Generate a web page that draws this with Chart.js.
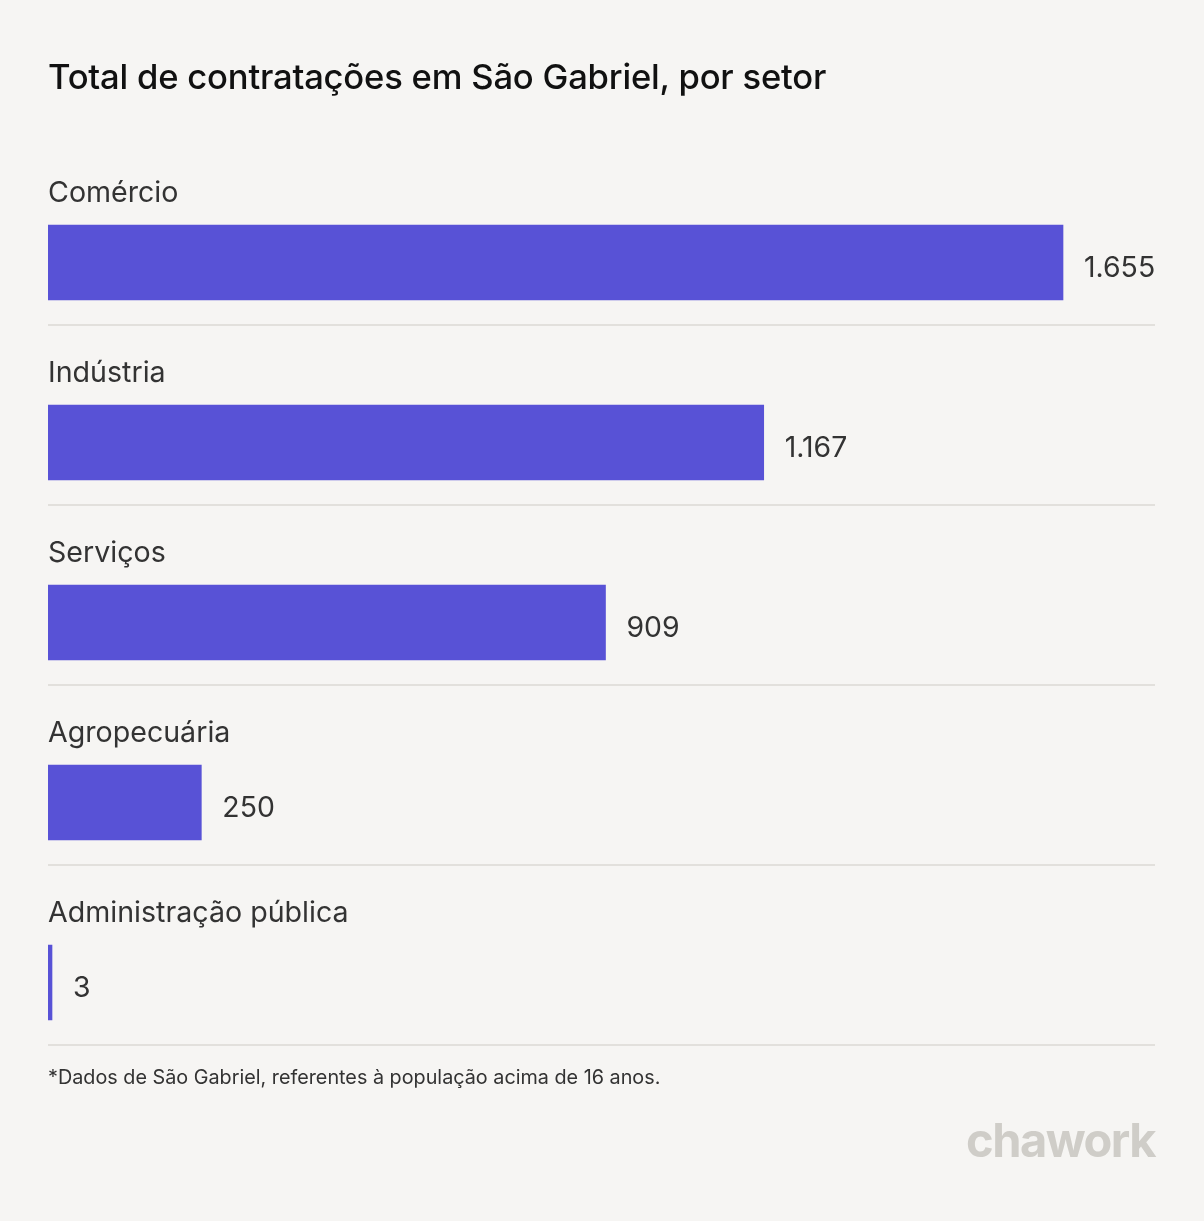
<!DOCTYPE html>
<html>
<head>
<meta charset="utf-8">
<script src="https://cdn.jsdelivr.net/npm/chart.js@4"></script>
<style>
  html, body { margin: 0; padding: 0; background: #f6f5f3; }
  body { width: 1204px; height: 1221px; position: relative; overflow: hidden; font-family: Inter, "Noto Sans", sans-serif; }
  #title { position: absolute; left: 48px; top: 56px; font-size: 34.6px; font-weight: 500; color: #111; letter-spacing: -0.2px; line-height: 40px; }
  #note { position: absolute; left: 48px; top: 1065px; font-size: 19.8px; color: #333; line-height: 24px; }
  #logo { position: absolute; right: 49px; top: 1112px; font-size: 47px; font-weight: 700; color: #cfcdc8; letter-spacing: -1.5px; line-height: 56px; }
  #wrap { position: absolute; left: 0; top: 0; width: 1204px; height: 1221px; }
</style>
</head>
<body>
<div id="wrap"><canvas id="chart" width="1204" height="1221"></canvas></div>
<div id="title">Total de contratações em São Gabriel, por setor</div>
<div id="note">*Dados de São Gabriel, referentes à população acima de 16 anos.</div>
<div id="logo">chawork</div>
<script>
const categories = ['Comércio', 'Indústria', 'Serviços', 'Agropecuária', 'Administração pública'];
const hires = [1655, 1167, 909, 250, 3];
const valueLabels = ['1.655', '1.167', '909', '250', '3'];

const barColor = '#5852d6';
const textColor = '#333333';

// draws category names above bars, values after bars and separators
const labelsPlugin = {
  id: 'labels',
  afterDatasetsDraw(chart) {
    const ctx = chart.ctx;
    const meta = chart.getDatasetMeta(0);
    const area = chart.chartArea;
    ctx.save();
    meta.data.forEach((bar, i) => {
      const y = bar.y;
      ctx.fillStyle = textColor;
      ctx.textBaseline = 'alphabetic';
      ctx.textAlign = 'left';
      ctx.font = '28.6px Inter, "Noto Sans", sans-serif';
      ctx.fillText(categories[i], area.left, y - 61);
      ctx.font = '28.4px Inter, "Noto Sans", sans-serif';
      ctx.fillText(valueLabels[i], bar.x + 21, y + 14);
      ctx.fillStyle = '#e2e0dc';
      ctx.fillRect(area.left, Math.round(y + 61), area.right - area.left, 2);
    });
    ctx.restore();
  }
};

const ctx = document.getElementById('chart');
new Chart(ctx, {
  type: 'bar',
  data: {
    labels: categories,
    datasets: [{
      data: hires,
      backgroundColor: barColor,
      borderWidth: 0,
      barThickness: 75,
      minBarLength: 4
    }]
  },
  options: {
    indexAxis: 'y',
    responsive: false,
    animation: false,
    devicePixelRatio: 1,
    layout: { padding: { left: 48, right: 49, top: 172.5, bottom: 148.5 } },
    scales: {
      x: { display: false, min: 0, max: 1805 },
      y: { display: false }
    },
    plugins: {
      legend: { display: false },
      tooltip: { enabled: false }
    }
  },
  plugins: [labelsPlugin]
});
</script>
</body>
</html>
